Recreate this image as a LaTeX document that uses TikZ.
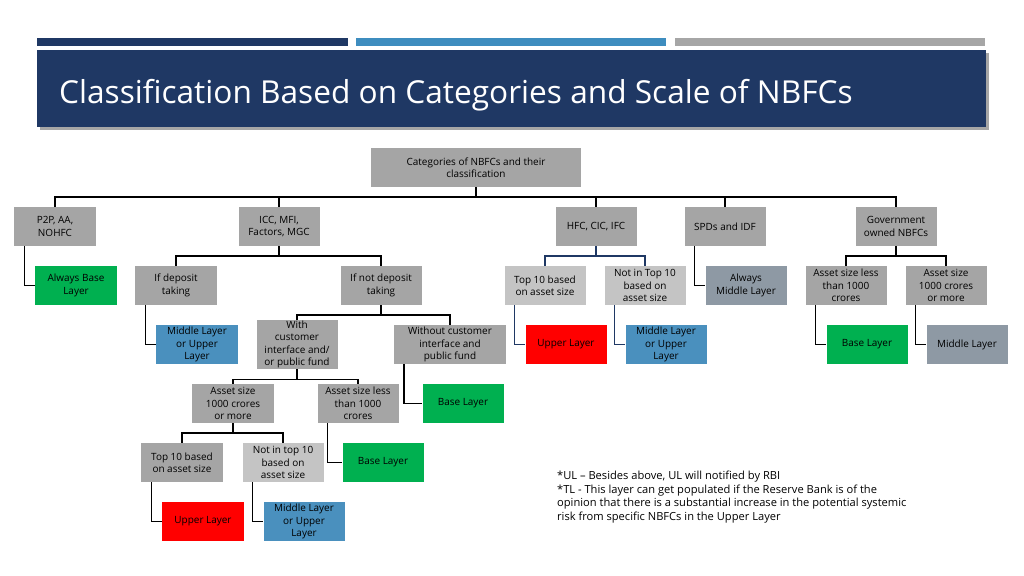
\documentclass[tikz,border=0pt]{standalone}
\usepackage{fontspec}
\setmainfont{Open Sans}
\usetikzlibrary{positioning}
\definecolor{navy}{HTML}{1F3864}
\definecolor{midblue}{HTML}{3E8DBF}
\definecolor{barGrey}{HTML}{A6A6A6}
\definecolor{boxGrey}{HTML}{A5A5A5}
\definecolor{lightGrey}{HTML}{C4C4C4}
\definecolor{layerGreen}{HTML}{00B050}
\definecolor{layerBlue}{HTML}{4A90BE}
\definecolor{layerRed}{HTML}{FF0000}
\definecolor{slate}{HTML}{8E99A4}
\begin{document}
\begin{tikzpicture}
    [
        x=0.03cm, y=-0.03cm,
        cat/.style = {fill=boxGrey, minimum width=2.43cm, minimum height=1.17cm, align=center, inner sep=1pt, font=\fontsize{8.5}{10.5}\selectfont},
        pale/.style = {cat, fill=lightGrey},
        base/.style = {cat, fill=layerGreen},
        midup/.style = {cat, fill=layerBlue},
        upper/.style = {cat, fill=layerRed},
        middle/.style = {cat, fill=slate},
        link/.style = {line width=1.3pt},
        navylink/.style = {line width=1.3pt, draw=navy},
    ]
    \useasboundingbox (0,0) rectangle (1024,575);

    % banner
    \fill[navy]      (37,38)  rectangle (348,46);
    \fill[midblue]   (356,38) rectangle (666,46);
    \fill[barGrey]   (675,38) rectangle (985,46);
    \fill[black!35]  (40,53)  rectangle (989,130);
    \fill[navy]      (37,50)  rectangle (986,127);
    \node[anchor=west, text=white, font=\fontsize{27}{30}\selectfont] (title) at (55,95) {Classification Based on Categories and Scale of NBFCs};

    % root and first level
    \node[cat, minimum width=6.3cm] (root) at (476,167.5) {Categories of NBFCs and their\\classification};
    \node[cat] (p2p)  at (55,226.5)  {P2P, AA,\\NOHFC};
    \node[cat] (icc)  at (279,226.5) {ICC, MFI,\\Factors, MGC};
    \node[cat] (hfc)  at (596,226.5) {HFC, CIC, IFC};
    \node[cat] (spd)  at (725,226.5) {SPDs and IDF};
    \node[cat] (govt) at (896,226.5) {Government\\owned NBFCs};

    % second level
    \node[base]   (alwbase) at (76,285.5)  {Always Base\\Layer};
    \node[cat]    (dep)     at (176,285.5) {If deposit\\taking};
    \node[cat]    (nodep)   at (381,285.5) {If not deposit\\taking};
    \node[pale]   (htop)    at (545,285.5) {Top 10 based\\on asset size};
    \node[pale]   (hnot)    at (645,285.5) {Not in Top 10\\based on\\asset size};
    \node[middle] (alwmid)  at (746,285.5) {Always\\Middle Layer};
    \node[cat]    (gless)   at (846,285.5) {Asset size less\\than 1000\\crores};
    \node[cat]    (gmore)   at (946,285.5) {Asset size\\1000 crores\\or more};

    % third level
    \node[midup]  (depres)  at (197,344.5) {Middle Layer\\or Upper\\Layer};
    \node[cat]    (withcu)  at (297,344.5) {With\\customer\\interface and/\\or public fund};
    \node[cat, minimum width=3.36cm] (nocu) at (450,344.5) {Without customer\\interface and\\public fund};
    \node[upper]  (hupper)  at (566,344.5) {Upper Layer};
    \node[midup]  (hmidup)  at (666,344.5) {Middle Layer\\or Upper\\Layer};
    \node[base]   (gbase)   at (867,344.5) {Base Layer};
    \node[middle] (gmid)    at (967,344.5) {Middle Layer};

    % fourth level
    \node[cat]  (wmore)  at (233,403.5) {Asset size\\1000 crores\\or more};
    \node[cat]  (wless)  at (358,403.5) {Asset size less\\than 1000\\crores};
    \node[base] (nobase) at (463,403.5) {Base Layer};

    % fifth and sixth level
    \node[cat]   (wtop)   at (182,462.5) {Top 10 based\\on asset size};
    \node[pale]  (wnot)   at (283,462.5) {Not in top 10\\based on\\asset size};
    \node[base]  (lbase)  at (383,462.5) {Base Layer};
    \node[upper] (wupper) at (203,521.5) {Upper Layer};
    \node[midup] (wmidup) at (304,521.5) {Middle Layer\\or Upper\\Layer};

    % brackets
    \foreach \c in {p2p,icc,hfc,spd,govt}
        \draw[link] (root.south) -- ++(0,10) -| (\c.north);
    \foreach \c in {dep,nodep}
        \draw[link] (icc.south) -- ++(0,10) -| (\c.north);
    \foreach \c in {htop,hnot}
        \draw[navylink] (hfc.south) -- ++(0,10) -| (\c.north);
    \foreach \c in {gless,gmore}
        \draw[link] (govt.south) -- ++(0,10) -| (\c.north);
    \foreach \c in {withcu,nocu}
        \draw[link] (nodep.south) -- ++(0,10) -| (\c.north);
    \foreach \c in {wmore,wless}
        \draw[link] (withcu.south) -- ++(0,10) -| (\c.north);
    \foreach \c in {wtop,wnot}
        \draw[link] (wmore.south) -- ++(0,10) -| (\c.north);

    % elbows
    \draw[link] ([xshift=0.3cm]p2p.south west) |- (alwbase.west);
    \draw[link] ([xshift=0.3cm]dep.south west) |- (depres.west);
    \draw[link] ([xshift=0.3cm]spd.south west) |- (alwmid.west);
    \draw[navylink] ([xshift=0.3cm]htop.south west) |- (hupper.west);
    \draw[navylink] ([xshift=0.3cm]hnot.south west) |- (hmidup.west);
    \draw[link] ([xshift=0.3cm]gless.south west) |- (gbase.west);
    \draw[link] ([xshift=0.3cm]gmore.south west) |- (gmid.west);
    \draw[link] ([xshift=0.3cm]nocu.south west) |- (nobase.west);
    \draw[link] ([xshift=0.3cm]wless.south west) |- (lbase.west);
    \draw[link] ([xshift=0.3cm]wtop.south west) |- (wupper.west);
    \draw[link] ([xshift=0.3cm]wnot.south west) |- (wmidup.west);

    % note
    \node[anchor=north west, align=left, font=\fontsize{9.5}{11.6}\selectfont] (note) at (553,467)
        {*UL – Besides above, UL will notified by RBI\\
         *TL - This layer can get populated if the Reserve Bank is of the\\
         opinion that there is a substantial increase in the potential systemic\\
         risk from specific NBFCs in the Upper Layer};
\end{tikzpicture}
\end{document}
